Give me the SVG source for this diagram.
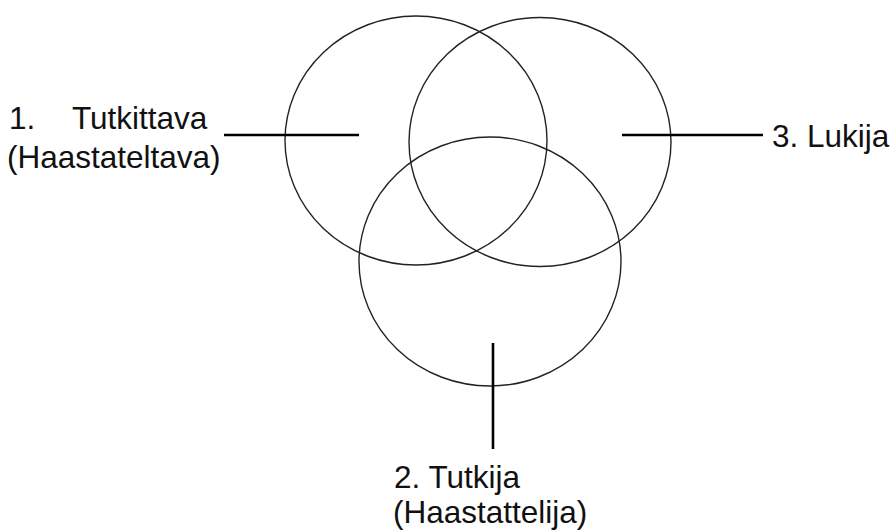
<svg xmlns="http://www.w3.org/2000/svg" width="894" height="532" viewBox="0 0 894 532">
<style>
.c{fill:none;stroke:#222;stroke-width:1.4}
.l{stroke:#000;stroke-width:2.6;fill:none}
text{font-family:"Liberation Sans",Arial,sans-serif;font-size:31.5px;fill:#111}
</style>
<rect width="894" height="532" fill="#fff"/>
<g id="node-tutkittava">
<ellipse class="c" cx="416" cy="140.5" rx="131" ry="124.5"/>
<text x="9" y="129">1.</text>
<text x="72" y="129">Tutkittava</text>
<text x="7" y="168">(Haastateltava)</text>
</g>
<g id="node-lukija">
<ellipse class="c" cx="540" cy="142" rx="131" ry="124.5"/>
<text x="772" y="147">3. Lukija</text>
</g>
<g id="node-tutkija">
<ellipse class="c" cx="490" cy="261.5" rx="131" ry="124.5"/>
<text x="394" y="488">2. Tutkija</text>
<text x="393" y="523">(Haastattelija)</text>
</g>
<g id="connectors">
<line class="l" x1="224" y1="135" x2="359" y2="135"/>
<line class="l" x1="622" y1="135" x2="763" y2="135"/>
<line class="l" x1="493" y1="343" x2="493" y2="449"/>
</g>
</svg>
